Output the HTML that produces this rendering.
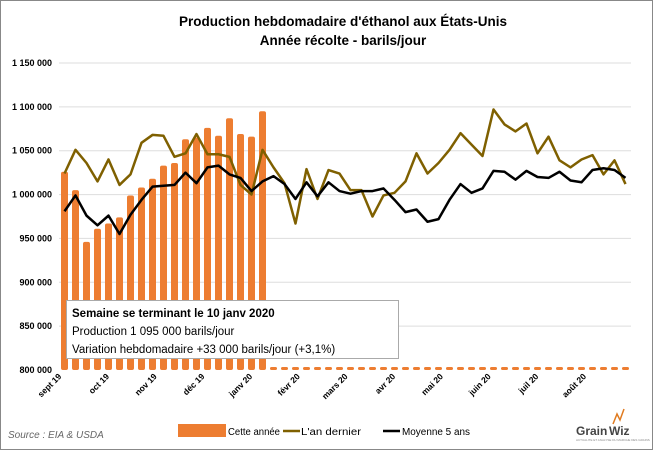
<!DOCTYPE html>
<html><head><meta charset="utf-8"><style>
body{margin:0;background:#fff;font-family:"Liberation Sans",sans-serif}
svg text{font-family:"Liberation Sans",sans-serif}
</style></head><body>
<svg id="chart" width="653" height="450" viewBox="0 0 653 450">
<rect x="0.5" y="0.5" width="652" height="449" fill="#fff" stroke="#888"/>
<text x="343" y="26" text-anchor="middle" font-size="13.5" font-weight="bold">Production hebdomadaire d'éthanol aux États-Unis</text>
<text x="343" y="45" text-anchor="middle" font-size="13.5" font-weight="bold">Année récolte - barils/jour</text>
<g id="grid"></g>
<g id="yaxis"></g>
<g id="bars"></g>
<g id="lines"></g>
<g id="xaxis"></g>
<g>
<rect x="66.5" y="300.5" width="332" height="58" fill="#fff" stroke="#aaa"/>
<text x="72" y="317" font-size="11.5" font-weight="bold">Semaine se terminant le 10 janv 2020</text>
<text x="72" y="335" font-size="11.5">Production 1 095 000 barils/jour</text>
<text x="72" y="353" font-size="11.5">Variation hebdomadaire +33 000 barils/jour (+3,1%)</text>
</g>
<g>
<rect x="178" y="424" width="48" height="13" fill="#ED7D31"/>
<text x="228" y="435" font-size="10" textLength="52" lengthAdjust="spacingAndGlyphs">Cette année</text>
<line x1="283" y1="431" x2="300" y2="431" stroke="#7F6000" stroke-width="2.5"/>
<text x="301" y="435" font-size="10" textLength="60" lengthAdjust="spacingAndGlyphs">L'an dernier</text>
<line x1="383" y1="431" x2="400" y2="431" stroke="#000" stroke-width="2.5"/>
<text x="402" y="435" font-size="10" textLength="68" lengthAdjust="spacingAndGlyphs">Moyenne 5 ans</text>
</g>
<text x="8" y="438" font-size="10" font-style="italic" fill="#666">Source : EIA &amp; USDA</text>
<g>
<text x="576" y="435" font-size="12" font-weight="bold" fill="#444">Grain</text>
<text x="609" y="435" font-size="12" font-weight="bold" fill="#444">Wiz</text>
<polyline points="613,424 617,414 620,420 624,409" fill="none" stroke="#E07B20" stroke-width="1.5"/>
<text x="576" y="441" font-size="3" fill="#888">ACTUALITE ET ANALYSE DU MARCHE DES GRAINS</text>
</g>
</svg>
<script>
const yTicks=[800000,850000,900000,950000,1000000,1050000,1100000,1150000];
const yTickLabels=["800 000","850 000","900 000","950 000","1 000 000","1 050 000","1 100 000","1 150 000"];
const months=["sept 19","oct 19","nov 19","déc 19","janv 20","févr 20","mars 20","avr 20","mai 20","juin 20","juil 20","août 20"];
const thisYear=[1026000,1005000,946000,961000,967000,974000,999000,1008000,1018000,1033000,1036000,1063000,1065000,1076000,1067000,1087000,1069000,1066000,1095000];
const lastYear=[1024000,1051000,1036000,1015000,1040000,1011000,1023000,1059000,1068000,1067000,1043000,1047000,1069000,1046000,1046000,1043000,1011000,1000000,1051000,1031000,1013000,967000,1029000,995000,1028000,1024000,1005000,1005000,975000,999000,1002000,1015000,1047000,1024000,1036000,1051000,1070000,1057000,1044000,1097000,1080000,1072000,1081000,1047000,1066000,1039000,1031000,1040000,1045000,1023000,1039000,1012000];
const avg5=[981000,999000,976000,965000,976000,955000,977000,994000,1009000,1010000,1011000,1025000,1013000,1031000,1033000,1023000,1019000,1004000,1015000,1021000,1012000,995000,1014000,998000,1014000,1004000,1001000,1004000,1004000,1007000,994000,980000,983000,969000,972000,994000,1012000,1002000,1007000,1027000,1026000,1017000,1027000,1020000,1019000,1026000,1016000,1014000,1028000,1030000,1028000,1019000];
const NS="http://www.w3.org/2000/svg";
const X0=59,STEP=11,NW=52,YB=370,YT=63;
function y(v){return YB-(v-800000)/350000*(YB-YT);}
function x(i){return X0+STEP*(i+0.5);}
function mk(t,a,p){const e=document.createElementNS(NS,t);for(const k in a)e.setAttribute(k,a[k]);p.appendChild(e);return e;}
const grid=document.getElementById('grid'),ya=document.getElementById('yaxis');
yTicks.forEach((v,k)=>{
 if(v>800000){const l=mk('line',{x1:X0,x2:631,y1:y(v),y2:y(v),stroke:'#ddd','stroke-width':1},grid);
 
 }
 const t=mk('text',{x:52,y:y(v)+3,'text-anchor':'end','font-size':9,'font-weight':'bold'},ya);
 t.textContent=yTickLabels[k];
 
 
});
const bars=document.getElementById('bars');
for(let i=0;i<NW;i++){
 const v=i<thisYear.length?thisYear[i]:null;
 let r;
 if(v!==null){r=mk('rect',{x:x(i)-3.5,y:y(v),width:7,height:YB-y(v),rx:2,fill:'#ED7D31'},bars);}
 else{r=mk('rect',{x:x(i)-3.5,y:YB-3,width:7,height:3,rx:1.5,fill:'#ED7D31'},bars);}
 
 
}
const lines=document.getElementById('lines');
function path(d,c,n){const p=mk('polyline',{points:d.map((v,i)=>x(i)+','+y(v)).join(' '),fill:'none',stroke:c,'stroke-width':2.5,'stroke-linejoin':'round'},lines);
 
 }
path(lastYear,'#7F6000','line-last-year');
path(avg5,'#000','line-5yr-avg');
const xa=document.getElementById('xaxis');
months.forEach((m,k)=>{const px=62+47.7*k;
 const t=mk('text',{x:px,y:377,'text-anchor':'end','font-size':8.5,'font-weight':'bold',transform:'rotate(-45 '+px+' 377)'},xa);
 t.textContent=m;
 
 });
</script>
</body></html>
